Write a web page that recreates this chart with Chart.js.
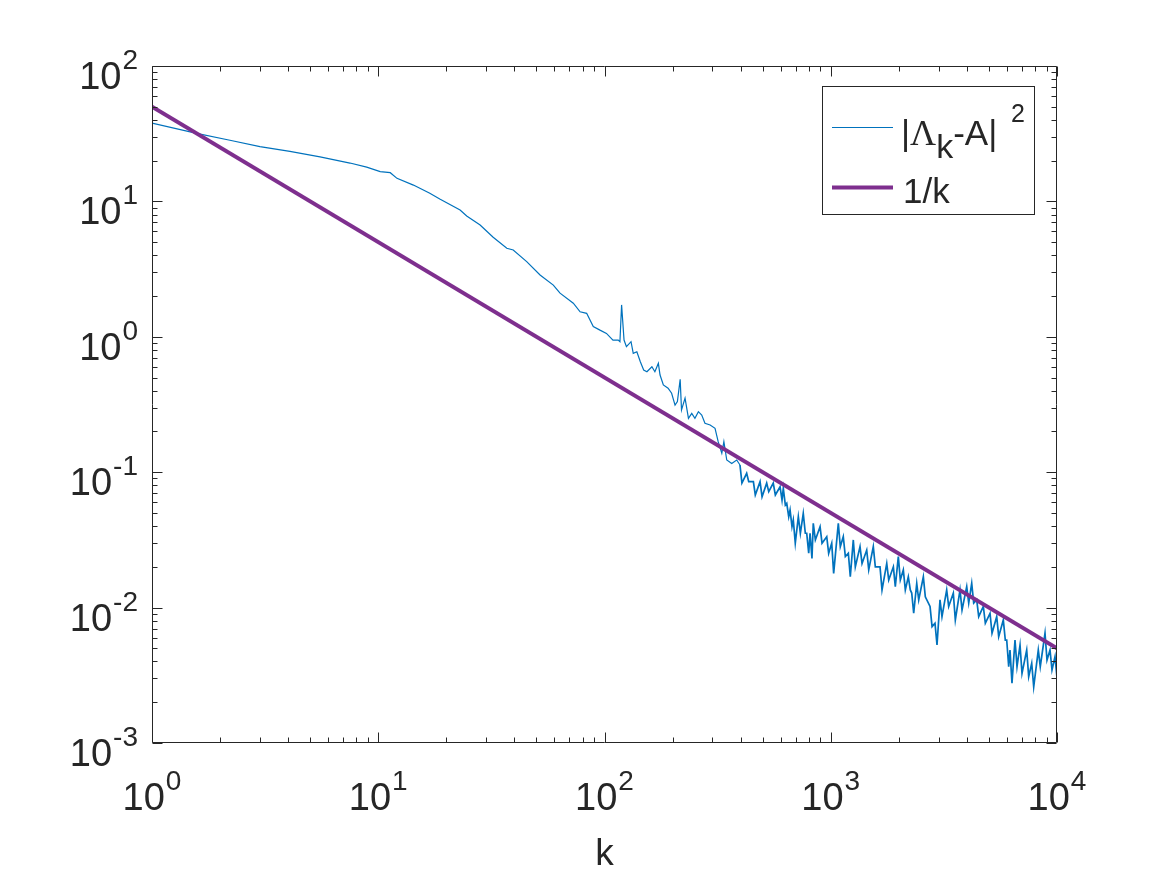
<!DOCTYPE html>
<html>
<head>
<meta charset="utf-8">
<script src="https://cdn.jsdelivr.net/npm/chart.js@4/dist/chart.umd.min.js"></script>
<style>
html,body{margin:0;padding:0;background:#fff;}
#wrap{width:1167px;height:875px;}
</style>
</head>
<body>
<div id="wrap"><canvas id="c" width="1167" height="875"></canvas></div>
<script>
// ---- data ----
const kErr = [1, 1.576, 2.21, 3.00, 4.07, 5.53, 7.50, 8.89, 10.2, 11.3, 12.1, 14.3, 16.9, 18.7, 23.0, 24.6, 28.2, 32.2, 37.0, 39.5, 45.3, 51.9, 59.4,
  63.6, 72.8, 78.0, 83.4, 89.2, 95.5, 102, 109, 115, 117, 119, 122, 125, 131, 134, 139, 144, 149, 154, 162,
  167, 173, 176, 182, 191, 198, 205, 210, 216, 219, 227, 235, 243, 251, 260, 269, 278, 293, 308, 318,
  330, 337, 347, 365, 384,
  397, 405, 425, 434, 455, 464, 487, 497, 521, 532, 557, 569, 597, 609, 617, 630, 639, 652, 661, 674,
  683, 697, 719, 734, 756, 772, 783, 799, 810, 826, 837, 855, 897, 915, 960, 979, 1010, 1030, 1080, 1102,
  1136, 1160, 1196, 1220, 1258, 1284, 1347, 1375, 1442, 1472, 1542, 1574, 1651, 1685, 1768, 1804, 1891, 1929,
  1989, 2030, 2093, 2136, 2202, 2247, 2280, 2326, 2399, 2448, 2566, 2618, 2747, 2804, 2889, 2949, 3040, 3102,
  3254, 3321, 3481, 3553, 3727, 3804, 3990, 4072, 4198, 4284, 4417, 4508, 4725, 4822, 5058, 5162, 5414, 5525,
  5790, 5909, 5994, 6117, 6198, 6325, 6522, 6656, 6864, 7004, 7346, 7497, 7731, 7889, 8266, 8435, 8851, 9032,
  9314, 9504, 9800, 10000];
const errVals = [37.8, 31.8, 28.3, 25.4, 23.4, 21.3, 19.2, 17.9, 16.6, 16.3, 14.8, 13.2, 11.5, 10.4, 8.64, 7.80, 6.70, 5.43, 4.51, 4.38, 3.59, 2.86, 2.41,
  2.10, 1.77, 1.53, 1.49, 1.19, 1.12, 1.06, 0.946, 0.946, 0.920, 1.72, 0.946, 0.845, 0.920, 0.755, 0.776, 0.655, 0.569, 0.552, 0.601,
  0.552, 0.637, 0.522, 0.441, 0.417, 0.383, 0.313, 0.332, 0.485, 0.288, 0.352, 0.250, 0.272, 0.250, 0.280, 0.264, 0.230, 0.223, 0.211, 0.168,
  0.138, 0.168, 0.123, 0.116, 0.123,
  0.113, 0.0832, 0.0981, 0.0851, 0.0851, 0.0679, 0.0851, 0.0659, 0.0830, 0.0718, 0.0830, 0.0679, 0.0781, 0.0623, 0.0760, 0.0572, 0.0589, 0.0469, 0.0526, 0.0396,
  0.0444, 0.0299, 0.0469, 0.0354, 0.0497, 0.0354, 0.0354, 0.0252, 0.0354, 0.0231, 0.0419, 0.0316, 0.0396, 0.0299, 0.0334, 0.0252, 0.0299, 0.0179, 0.0419, 0.0282,
  0.0334, 0.0238, 0.0252, 0.0169, 0.0316, 0.0200, 0.0282, 0.0212, 0.0266, 0.0190, 0.0282, 0.0200, 0.0200, 0.0135, 0.0212, 0.0160, 0.0200, 0.0143,
  0.0238, 0.0160, 0.0190, 0.0135, 0.0169, 0.0135, 0.0128, 0.00908, 0.0151, 0.0114, 0.0169, 0.0120, 0.0102, 0.00723, 0.00766, 0.00529, 0.0114, 0.00857,
  0.0135, 0.0102, 0.0128, 0.00810, 0.0135, 0.00960, 0.0143, 0.0108, 0.0151, 0.0108, 0.0114, 0.00857, 0.0102, 0.00766, 0.00908, 0.00646, 0.00857, 0.00610,
  0.00810, 0.00576, 0.00576, 0.00366, 0.00486, 0.00276, 0.00576, 0.00366, 0.00529, 0.00327, 0.00486, 0.00309, 0.00388, 0.00260, 0.00486, 0.00366, 0.00646, 0.00410,
  0.00486, 0.00346, 0.00434, 0.00302];
const kRef = [1, 10000];
const refVals = [50, 0.005];
const xTickExps = [0, 1, 2, 3, 4];
const yTickExps = [-3, -2, -1, 0, 1, 2];
const seriesLabels = ['|Λk-A|^2', '1/k'];
const xAxisTitle = 'k';

// ---- styling ----
const BLUE = '#0072BD', PURPLE = '#7E2F8E', AX = '#262626';
const SANS = '"Liberation Sans", Arial, Helvetica, sans-serif';
const SERIF = '"Liberation Serif", "Times New Roman", serif';

const n = Math.min(kErr.length, errVals.length);
const errData = [];
for (let i = 0; i < n; i++) errData.push({x: kErr[i], y: errVals[i]});
const refData = kRef.map((k, i) => ({x: k, y: refVals[i]}));

const axesPlugin = {
  id: 'matlabAxes',
  afterDatasetsDraw(chart) {
    const {ctx, chartArea: a, scales: {x, y}} = chart;
    ctx.save();
    ctx.strokeStyle = AX;
    ctx.lineWidth = 1;
    const L = Math.round(a.left) + 0.5, R = Math.round(a.right) - 0.5;
    const T = Math.round(a.top) + 0.5, B = Math.round(a.bottom) - 0.5;
    ctx.beginPath();
    ctx.rect(L, T, R - L, B - T);
    ctx.stroke();
    // ticks (inward, all four sides)
    ctx.beginPath();
    const xmin = Math.pow(10, xTickExps[0]), xmax = Math.pow(10, xTickExps[xTickExps.length - 1]);
    for (let d = xTickExps[0]; d <= xTickExps[xTickExps.length - 1]; d++) {
      for (let m = 1; m <= 9; m++) {
        const v = m * Math.pow(10, d);
        if (v < xmin - 1e-9 || v > xmax * 1.0000001) continue;
        const p = Math.round(x.getPixelForValue(v)) + 0.5;
        const len = m === 1 ? 10 : 5;
        ctx.moveTo(p, B); ctx.lineTo(p, B - len);
        ctx.moveTo(p, T); ctx.lineTo(p, T + len);
      }
    }
    const ymin = Math.pow(10, yTickExps[0]), ymax = Math.pow(10, yTickExps[yTickExps.length - 1]);
    for (let d = yTickExps[0]; d <= yTickExps[yTickExps.length - 1]; d++) {
      for (let m = 1; m <= 9; m++) {
        const v = m * Math.pow(10, d);
        if (v < ymin * 0.9999999 || v > ymax * 1.0000001) continue;
        const p = Math.round(y.getPixelForValue(v)) + 0.5;
        const len = m === 1 ? 10 : 5;
        ctx.moveTo(L, p); ctx.lineTo(L + len, p);
        ctx.moveTo(R, p); ctx.lineTo(R - len, p);
      }
    }
    ctx.stroke();

    // tick labels 10^e
    ctx.fillStyle = AX;
    ctx.textBaseline = 'alphabetic';
    ctx.textAlign = 'left';
    const baseFont = '38px ' + SANS, expFont = '28px ' + SANS;
    function labelWidths(e) {
      ctx.font = baseFont; const w1 = ctx.measureText('10').width;
      ctx.font = expFont; const w2 = ctx.measureText(String(e)).width;
      return [w1, w2];
    }
    function drawLabel(e, left, baseY) {
      const [w1] = labelWidths(e);
      ctx.font = baseFont; ctx.fillText('10', left, baseY);
      ctx.font = expFont; ctx.fillText(String(e), left + w1 + 1, baseY - 20);
    }
    xTickExps.forEach(e => {
      const [w1, w2] = labelWidths(e);
      const p = x.getPixelForValue(Math.pow(10, e));
      drawLabel(e, p - (w1 + w2 + 1) / 2, a.bottom + 67);
    });
    yTickExps.forEach(e => {
      const [w1, w2] = labelWidths(e);
      const p = y.getPixelForValue(Math.pow(10, e));
      drawLabel(e, a.left - 14 - (w1 + w2 + 1), p + 23);
    });
    // x-axis title
    ctx.font = '37px ' + SANS;
    ctx.textAlign = 'center';
    ctx.fillText(xAxisTitle, (a.left + a.right) / 2, 865);

    // legend
    const lx = 822.5, ly = 86.5, lw = 212, lh = 128;
    ctx.fillStyle = '#fff';
    ctx.fillRect(lx, ly, lw, lh);
    ctx.strokeStyle = AX; ctx.lineWidth = 1;
    ctx.strokeRect(lx, ly, lw, lh);
    ctx.lineCap = 'butt';
    ctx.beginPath(); ctx.strokeStyle = BLUE; ctx.lineWidth = 1.2;
    ctx.moveTo(832, 127.5); ctx.lineTo(893, 127.5); ctx.stroke();
    ctx.beginPath(); ctx.strokeStyle = PURPLE; ctx.lineWidth = 4;
    ctx.moveTo(832, 187.5); ctx.lineTo(893, 187.5); ctx.stroke();
    ctx.fillStyle = AX; ctx.textAlign = 'left';
    const lf = '35px ' + SANS;
    let cx = 901;
    const by = 145;
    ctx.font = lf; ctx.fillText('|', cx, by); cx += ctx.measureText('|').width;
    ctx.font = '36px ' + SERIF; ctx.fillText('Λ', cx, by); cx += ctx.measureText('Λ').width;
    ctx.font = '34px ' + SANS; ctx.fillText('k', cx, by + 13); cx += ctx.measureText('k').width;
    ctx.font = lf; ctx.fillText('-A|', cx, by); cx += ctx.measureText('-A| ').width + 4;
    ctx.font = '25px ' + SANS; ctx.fillText('2', cx, by - 23);
    ctx.font = lf; ctx.fillText(seriesLabels[1], 903, 203);
    ctx.restore();
  }
};

new Chart(document.getElementById('c'), {
  type: 'line',
  data: {
    datasets: [
      {label: seriesLabels[0], data: errData, borderColor: BLUE, borderWidth: 1.2, pointRadius: 0, tension: 0, fill: false, order: 1,
       segment: {borderWidth: c => (c.p0.parsed.x >= 390 ? 1.7 : 1.2)}},
      {label: seriesLabels[1], data: refData, borderColor: PURPLE, borderWidth: 4, pointRadius: 0, tension: 0, fill: false, order: 0}
    ]
  },
  options: {
    responsive: false,
    animation: false,
    devicePixelRatio: 1,
    layout: {padding: {left: 152, top: 66, right: 110, bottom: 132}},
    plugins: {legend: {display: false}, tooltip: {enabled: false}},
    scales: {
      x: {type: 'logarithmic', min: Math.pow(10, xTickExps[0]), max: Math.pow(10, xTickExps[xTickExps.length - 1]), display: false},
      y: {type: 'logarithmic', min: Math.pow(10, yTickExps[0]), max: Math.pow(10, yTickExps[yTickExps.length - 1]), display: false}
    }
  },
  plugins: [axesPlugin]
});
</script>
</body>
</html>
